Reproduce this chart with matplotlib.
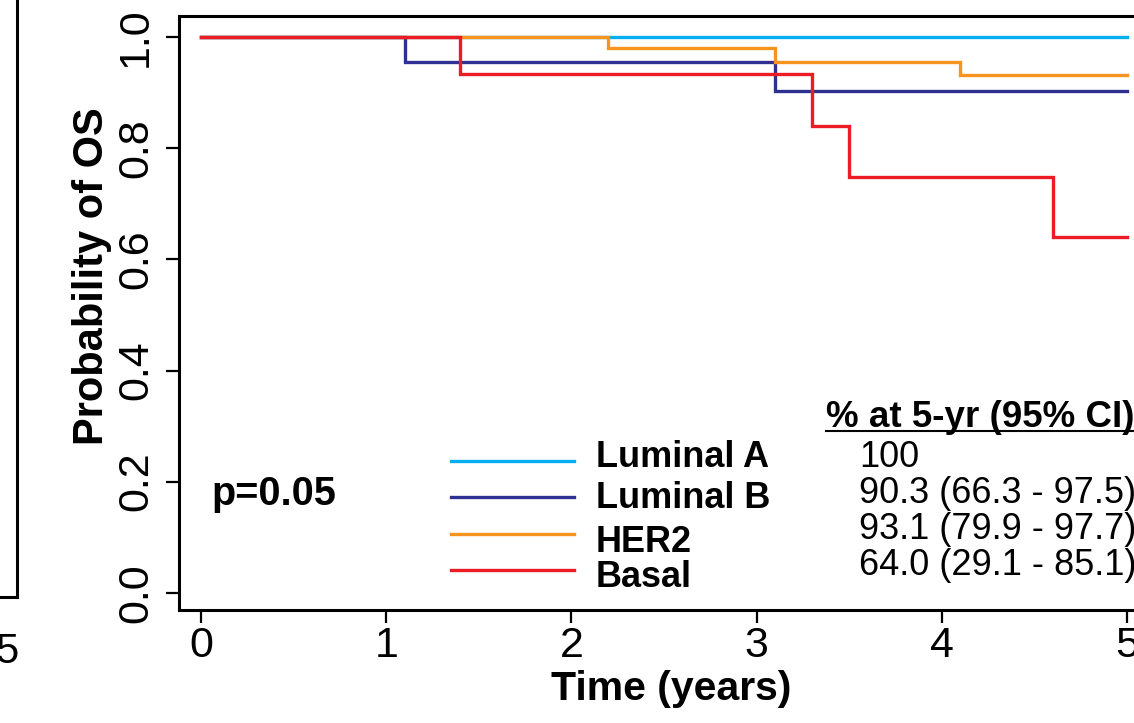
import matplotlib
matplotlib.use("Agg")
import matplotlib.pyplot as plt

plt.rcParams['font.family'] = ['Liberation Sans', 'DejaVu Sans']

# survival curves (step times in years, probability after each step)
groups = ["Luminal A", "Luminal B", "HER2", "Basal"]
colors = ["#00AEEF", "#2E3192", "#F7941D", "#ED1C24"]
lumA_t = [0, 5]
lumA_s = [1.0, 1.0]
lumB_t = [0, 1.1, 3.1, 5]
lumB_s = [1.0, 0.956, 0.903, 0.903]
her2_t = [0, 2.2, 3.1, 4.1, 5]
her2_s = [1.0, 0.980, 0.956, 0.931, 0.931]
basal_t = [0, 1.4, 3.3, 3.5, 4.6, 5]
basal_s = [1.0, 0.933, 0.840, 0.748, 0.640, 0.640]

header = "% at 5-yr (95% CI)"
five_yr = ["100", "90.3 (66.3 - 97.5)", "93.1 (79.9 - 97.7)", "64.0 (29.1 - 85.1)"]
p_text = "p=0.05"
xticks = [0, 1, 2, 3, 4, 5]
yticks = [0.0, 0.2, 0.4, 0.6, 0.8, 1.0]

fig = plt.figure(figsize=(11.34, 7.23), dpi=100)

# sliver of neighbouring panel on the left
ax0 = fig.add_axes([-0.2, 1 - 597 / 723, 0.2 + 17 / 1134, 0.9])
ax0.set_xticks([])
ax0.set_yticks([])
for s in ax0.spines.values():
    s.set_linewidth(2.2)
fig.text(-0.004, 1 - 652 / 723, "5", fontsize=30, va="center", ha="left")

ax = fig.add_axes([179 / 1134, 1 - 610 / 723, 985 / 1134, 594 / 723])

curves = [(lumA_t, lumA_s), (lumB_t, lumB_s), (her2_t, her2_s), (basal_t, basal_s)]
for (t, s), c in zip(curves, colors):
    ax.step(t, s, where="post", color=c, lw=2.4, solid_joinstyle="miter")

ax.set_xlim(-0.119, 5.2)
ax.set_ylim(-0.031, 1.038)
ax.set_xticks(xticks)
ax.set_xticklabels([str(x) for x in xticks])
ax.set_yticks(yticks)
ax.set_yticklabels(["%.1f" % y for y in yticks], rotation=90, va="center")
ax.tick_params(axis="both", length=9.5, width=1.6, labelsize=31, direction="out")
ax.tick_params(axis="x", pad=2)
ax.tick_params(axis="y", pad=7)
for s in ax.spines.values():
    s.set_linewidth(2.2)

ax.set_xlabel("Time (years)", fontsize=29.5, fontweight="bold", labelpad=3)
ax.set_ylabel("Probability of OS", fontsize=30, fontweight="bold")
ax.yaxis.set_label_coords(-0.068, 0.562)

# legend drawn by hand, R style
line_y = [0.238, 0.172, 0.106, 0.041]
label_y = [0.227, 0.153, 0.074, 0.011]
value_y = [0.227, 0.161, 0.097, 0.032]
for g, c, ly, ty, vy, v in zip(groups, colors, line_y, label_y, value_y, five_yr):
    ax.plot([1.35, 2.012], [ly, ly], color=c, lw=2.4)
    ax.text(2.133, ty, g, fontsize=26, fontweight="bold", va="baseline", ha="left")
    ax.text(3.553, vy, v, fontsize=26, va="baseline", ha="left")

hdr = ax.text(3.375, 0.299, header, fontsize=26.5, fontweight="bold", va="baseline", ha="left")
fig.canvas.draw()
bb = hdr.get_window_extent().transformed(ax.transData.inverted())
ax.plot([bb.x0, bb.x1], [0.292, 0.292], color="black", lw=1.5, clip_on=False)

ax.text(0.054, 0.178, p_text, fontsize=28.5, fontweight="bold", va="center", ha="left")

fig.savefig("out.png", dpi=100)
